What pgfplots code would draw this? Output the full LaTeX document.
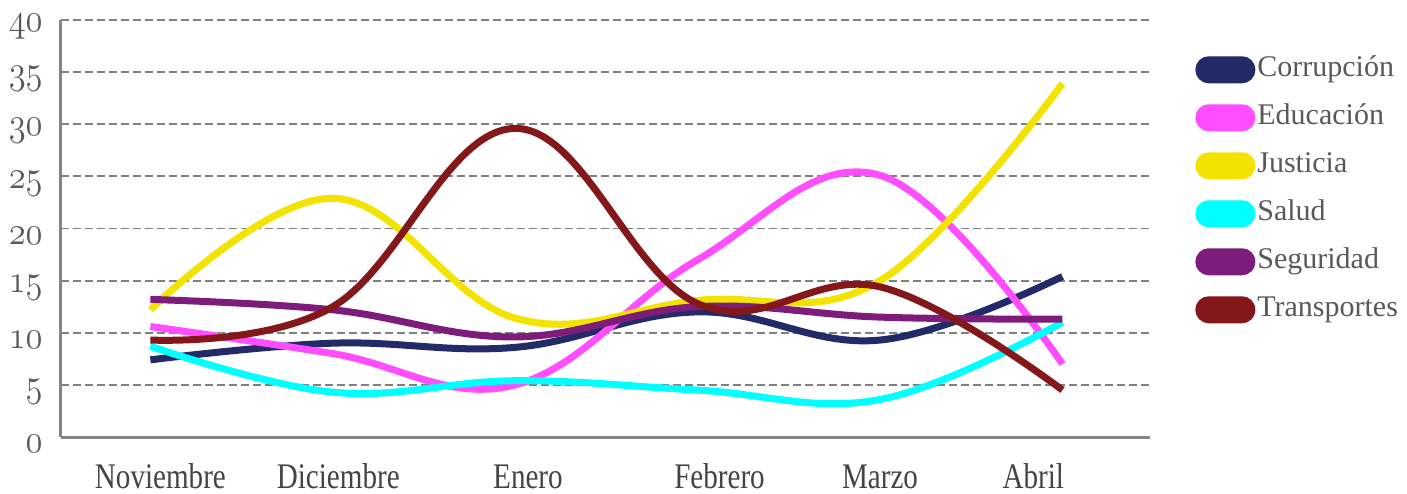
\documentclass[border=0pt]{standalone}
\usepackage{fontspec}
\setmainfont{Liberation Serif}
\usepackage{pgfplots}
\pgfplotsset{compat=1.18}

\definecolor{corr}{HTML}{222A68}
\definecolor{educ}{HTML}{FF4DFF}
\definecolor{just}{HTML}{F2E300}
\definecolor{salud}{HTML}{00FFFF}
\definecolor{segu}{HTML}{7D1C7B}
\definecolor{trans}{HTML}{84171A}
\definecolor{axisgray}{HTML}{858585}
\definecolor{gridgray}{HTML}{808080}
\definecolor{txtgray}{HTML}{595959}
\definecolor{labgray}{HTML}{444444}

% old-style figures from the math italic font
\newcommand{\osf}[1]{\scalebox{1}[1.15]{\usefont{OML}{cmm}{m}{it}\fontsize{17}{20}\selectfont #1}}
\newcommand{\tall}[1]{\scalebox{0.97}[1.2]{#1}}

\begin{document}
\begin{tikzpicture}
\begin{axis}[
    scale only axis,
    width=544.5pt, height=208.5pt,
    xmin=-0.49, xmax=5.48,
    ymin=0, ymax=40,
    axis lines*=left,
    axis line style={draw=axisgray, line width=1.5pt},
    major tick length=0pt,
    ytick={0,5,...,40},
    yticklabels={\osf{0},\osf{5},\osf{10},\osf{15},\osf{20},\osf{25},\osf{30},\osf{35},\osf{40}},
    yticklabel style={text=txtgray, inner sep=0pt, xshift=-9pt, yshift=-3.5pt},
    xtick={0.055,1.03,2.07,3.12,4.0,4.84},
    xticklabels={\tall{Noviembre},\tall{Diciembre},\tall{Enero},\tall{Febrero},\tall{Marzo},\tall{Abril}},
    xticklabel style={font=\fontsize{15}{18}\selectfont, text=labgray, anchor=base, inner sep=0pt, yshift=-25.5pt},
    ymajorgrids,
    grid style={draw=gridgray, line width=0.9pt, dash pattern=on 4pt off 2pt},
    every axis plot/.append style={line width=3.5pt, smooth, tension=0.66, no markers},
    legend cell align=left,
    legend image code/.code={
        \fill[#1] (8pt,-5pt) arc[start angle=270, end angle=90, radius=5pt]
            -- (24.5pt,5pt) arc[start angle=90, end angle=-90, radius=5pt] -- cycle;
    },
    legend style={
        at={(1.0413,0.92)}, anchor=north west,
        draw=none, fill=none, inner sep=0pt,
        font=\fontsize{15}{18}\selectfont, text=txtgray,
        nodes={inner sep=1pt, text height=10.5pt, text depth=3.5pt},
        row sep=8pt, column sep=0pt,
    },
]
\addplot[corr] coordinates {(0,7.4) (1,9.0) (2,8.6) (3,12.0) (4,9.3) (5,15.4)};
\addplot[educ] coordinates {(0,10.6) (1,8.0) (2,5.0) (3,17.0) (4,25.1) (5,7.0)};
\addplot[just] coordinates {(0,12.2) (1,22.9) (2,11.4) (3,13.1) (4,15.0) (5,33.9)};
\addplot[salud] coordinates {(0,8.7) (1,4.3) (2,5.4) (3,4.5) (4,3.6) (5,11.0)};
\addplot[segu] coordinates {(0,13.2) (1,12.2) (2,9.6) (3,12.5) (4,11.5) (5,11.3)};
\addplot[trans] coordinates {(0,9.3) (1,12.5) (2,29.6) (3,12.8) (4,14.4) (5,4.5)};
\legend{Corrupción,Educación,Justicia,Salud,Seguridad,Transportes}
\end{axis}
\pgfresetboundingbox
\path (-30.5pt,-28pt) rectangle (673pt,218.5pt);
\end{tikzpicture}
\end{document}
